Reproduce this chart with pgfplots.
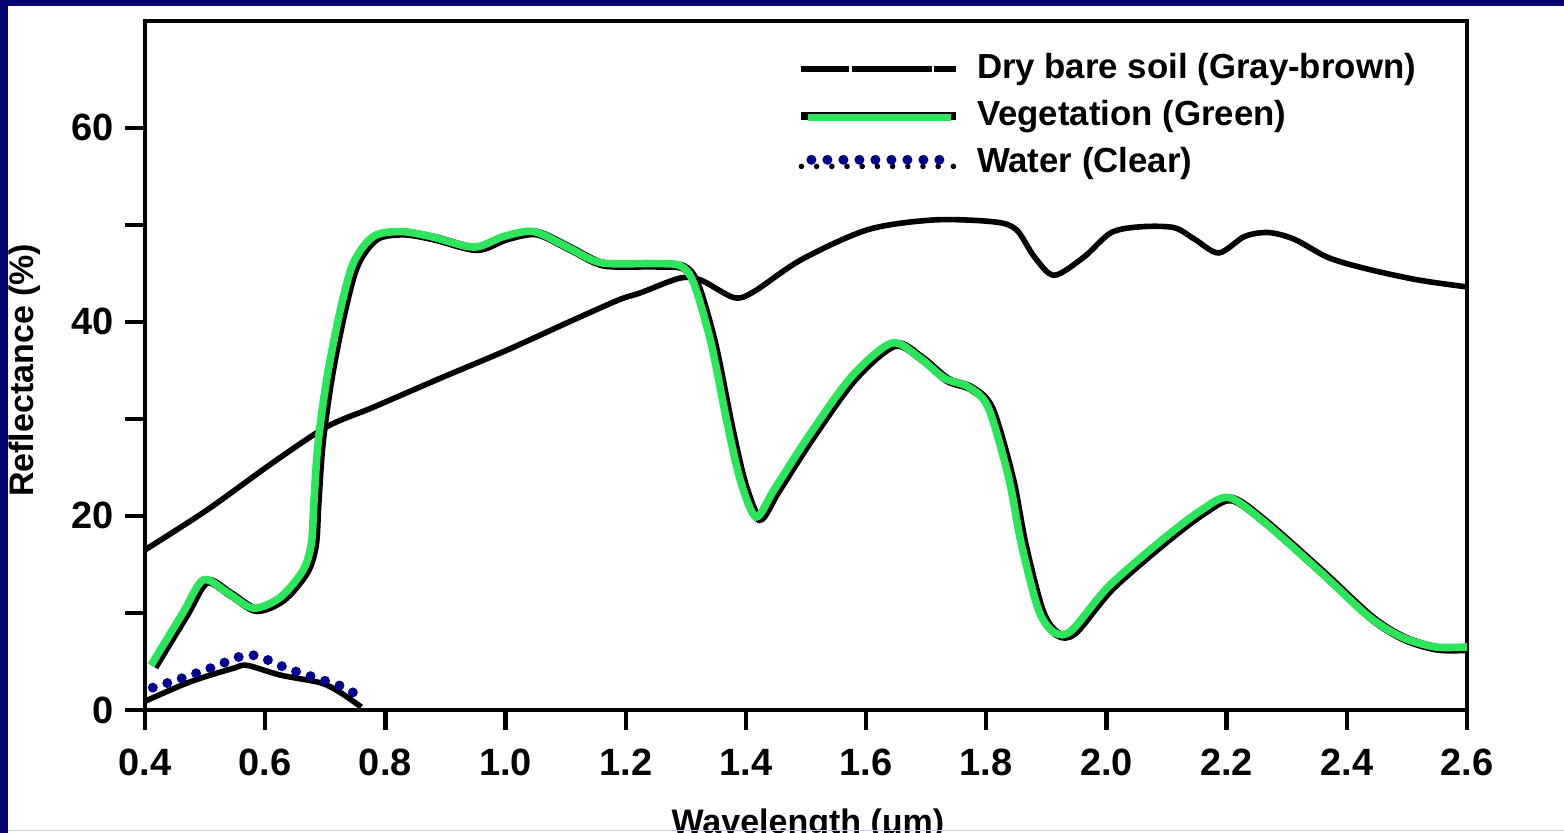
\documentclass[border=0pt]{standalone}
\usepackage{fontspec}
\setmainfont{Liberation Sans}
\usepackage{pgfplots}
\pgfplotsset{compat=1.18}
\definecolor{navyframe}{RGB}{4,4,112}
\definecolor{dotblue}{RGB}{0,0,140}
\definecolor{veggreen}{RGB}{46,228,92}

\pgfplotstableread{
x y
0.400 16.5
0.503 20.6
0.613 25.5
0.703 29.2
0.780 31.2
0.892 34.2
1.003 37.1
1.113 40.2
1.190 42.3
1.225 43.0
1.290 44.5
1.325 44.3
1.380 42.5
1.413 43.1
1.492 46.4
1.603 49.5
1.713 50.5
1.813 50.3
1.850 49.5
1.880 46.7
1.913 44.8
1.963 46.7
2.008 49.2
2.058 49.8
2.113 49.7
2.147 48.5
2.187 47.1
2.230 48.8
2.270 49.2
2.313 48.5
2.370 46.6
2.437 45.4
2.520 44.3
2.600 43.6
}\soil

\pgfplotstableread{
x y
0.410 4.6
0.463 10.0
0.497 13.4
0.537 12.1
0.580 10.5
0.625 11.6
0.663 14.4
0.677 17.2
0.681 21.3
0.688 27.5
0.703 34.3
0.725 41.2
0.747 46.1
0.780 48.8
0.825 49.3
0.875 48.8
0.947 47.7
0.997 48.8
1.047 49.3
1.103 47.7
1.158 46.1
1.242 46.0
1.290 45.8
1.313 44.0
1.342 37.8
1.370 29.2
1.392 23.4
1.417 19.9
1.447 22.7
1.503 28.1
1.575 34.3
1.642 37.8
1.687 36.4
1.730 34.2
1.770 33.3
1.803 31.2
1.837 24.0
1.858 17.2
1.887 10.3
1.913 8.0
1.942 8.2
2.003 12.7
2.092 17.5
2.158 20.6
2.203 21.9
2.258 19.6
2.353 14.4
2.437 9.6
2.492 7.5
2.547 6.5
2.600 6.5
}\veg

\pgfplotstableread{
x y
0.400 0.9
0.475 2.9
0.547 4.3
0.570 4.6
0.625 3.6
0.692 2.8
0.725 1.8
0.760 0.3
}\waterline

\pgfplotstableread{
x y
0.413 2.3
0.463 3.3
0.513 4.4
0.563 5.6
0.590 5.5
0.640 4.2
0.690 3.2
0.740 2.1
0.758 0.8
}\waterdots

\begin{document}
\begin{tikzpicture}
\useasboundingbox (-72.5pt,-61.5pt) rectangle (709.5pt,355pt);
\begin{scope}
\clip (-72.5pt,-61.5pt) rectangle (709.5pt,355pt);
\fill[white] (-72.5pt,-61.5pt) rectangle (709.5pt,355pt);
\begin{axis}[
  scale only axis, width=661pt, height=344.5pt,
  xmin=0.4, xmax=2.6, ymin=0, ymax=71,
  axis line style={line width=2.4pt},
  every tick/.style={black, line width=2.2pt},
  tick align=outside,
  major tick length=10pt,
  xtick={0.4,0.6,0.8,1.0,1.2,1.4,1.6,1.8,2.0,2.2,2.4,2.6},
  xticklabels={0.4,0.6,0.8,1.0,1.2,1.4,1.6,1.8,2.0,2.2,2.4,2.6},
  ytick={0,10,20,30,40,50,60},
  yticklabels={0,,20,,40,,60},
  xtick pos=bottom, ytick pos=left,
  minor tick num=0,
  /pgf/number format/assume math mode=true,
  ticklabel style={font=\fontsize{19}{22}\selectfont\bfseries},
  xticklabel style={yshift=-6pt},
  yticklabel style={xshift=-2pt},
  xlabel={Wavelength (μm)}, ylabel={Reflectance (\%)},
  label style={font=\fontsize{17}{20}\selectfont\bfseries},
  xlabel style={at={(axis description cs:0.5015,0)}, anchor=base, yshift=-62pt},
  ylabel style={at={(axis description cs:-0.0908,0.493)}, anchor=center},
  legend style={at={(axis description cs:0.4935,0.955)}, anchor=north west,
    draw=none, fill=none, inner sep=0pt, row sep=6.6pt, column sep=8.5pt,
    font=\fontsize{17.4}{20}\selectfont\bfseries,
    nodes={inner sep=0pt, text height=13pt, text depth=3.8pt}},
  legend cell align=left,
]
\addplot[black, line width=2.8pt, smooth, tension=0.5,
  legend image code/.code={\draw[black, line width=2.8pt, dash pattern=on 24pt off 1.2pt on 40pt off 1.2pt] (0pt,0pt) -- (77.5pt,0pt);}]
  table {\soil};
\addlegendentry{Dry bare soil (Gray-brown)}
\addplot[black, line width=4.5pt, smooth, tension=0.5, xshift=1.6pt, yshift=-0.8pt, forget plot] table {\veg};
\addplot[veggreen, line width=3.8pt, smooth, tension=0.5,
  legend image code/.code={\draw[black, line width=3.6pt] (0pt,0pt) -- (77.5pt,0pt); \draw[veggreen, line width=3.6pt] (3.5pt,-0.6pt) -- (75pt,-0.6pt);}]
  table {\veg};
\addlegendentry{Vegetation (Green)}
\addplot[black, line width=2.8pt, smooth, tension=0.5, forget plot] table {\waterline};
\addplot[dotblue, line width=5pt, line cap=round, dash pattern=on 0pt off 7.6pt, smooth, tension=0.5,
  legend image code/.code={\draw[black, line width=2.8pt] (0pt,-1.8pt) -- (77.5pt,-1.8pt); \draw[dotblue, line width=5pt, line cap=round, dash pattern=on 0pt off 8pt] (5pt,1.5pt) -- (70pt,1.5pt);}]
  table {\waterdots};
\addlegendentry{Water (Clear)}
\end{axis}
\fill[navyframe] (-72.5pt,-61.5pt) rectangle (-68.5pt,355pt);
\fill[navyframe] (-72.5pt,352pt) rectangle (709.5pt,355pt);
\draw[color={rgb,255:red,200;green,200;blue,235}, line width=0.8pt] (-68.5pt,-60.3pt) -- (709.5pt,-60.3pt);
\end{scope}
\end{tikzpicture}
\end{document}
